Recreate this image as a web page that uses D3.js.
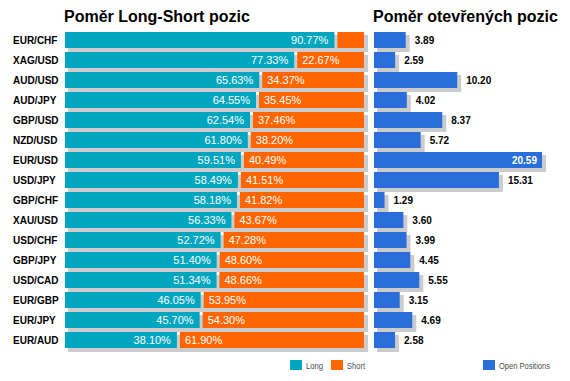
<!DOCTYPE html>
<html><head><meta charset="utf-8">
<script src="https://cdn.jsdelivr.net/npm/d3@7"></script>
<style>body{margin:0;background:#fff}svg{display:block;font-family:"Liberation Sans",Arial,sans-serif}</style>
</head><body>
<svg id="c" width="570" height="381"></svg>
<script>
const categories = ["EUR/CHF","XAG/USD","AUD/USD","AUD/JPY","GBP/USD","NZD/USD","EUR/USD","USD/JPY","GBP/CHF","XAU/USD","USD/CHF","GBP/JPY","USD/CAD","EUR/GBP","EUR/JPY","EUR/AUD"];
const longValues = [90.77,77.33,65.63,64.55,62.54,61.80,59.51,58.49,58.18,56.33,52.72,51.40,51.34,46.05,45.70,38.10];
const shortValues = [9.23,22.67,34.37,35.45,37.46,38.20,40.49,41.51,41.82,43.67,47.28,48.60,48.66,53.95,54.30,61.90];
const openPositions = [3.89,2.59,10.20,4.02,8.37,5.72,20.59,15.31,1.29,3.60,3.99,4.45,5.55,3.15,4.69,2.58];
const titles = ["Poměr Long-Short pozic","Poměr otevřených pozic"];
const legendLabels = ["Long","Short","Open Positions"];

const C = {long:"#00a6bf", short:"#ff6600", open:"#2a6fd9", shadow:"#cccccc"};
const svg = d3.select("#c");
const y = d3.scaleBand().domain(categories).range([30,350]).paddingInner(0.2).paddingOuter(0.1);
const xL = d3.scaleLinear().domain([0,100]).range([65,364]);
const xR = d3.scaleLinear().domain([0,d3.max(openPositions)]).range([374,542]);
const rows = categories.map((c,i)=>({c, l:longValues[i], s:shortValues[i], o:openPositions[i]}));
const bw = y.bandwidth();

// titles
svg.append("text").attr("x",64).attr("y",22).attr("font-size",16).attr("font-weight","bold").attr("fill","#000").text(titles[0]);
svg.append("text").attr("x",373).attr("y",22).attr("font-size",16).attr("font-weight","bold").attr("fill","#000").text(titles[1]);

// category labels
svg.append("g").selectAll("text").data(rows).join("text")
  .attr("x",13).attr("y",d=>y(d.c)+bw/2).attr("dy","0.36em")
  .attr("font-size",10).attr("font-weight","bold").attr("fill","#000").text(d=>d.c);

// left shadows
svg.append("g").selectAll("rect").data(rows).join("rect")
  .attr("x",xL(0)+3).attr("y",d=>y(d.c)+3).attr("width",xL(100)-xL(0)+1).attr("height",bw+1).attr("fill",C.shadow);
// long bars
svg.append("g").selectAll("rect").data(rows).join("rect")
  .attr("x",xL(0)).attr("y",d=>y(d.c)).attr("width",d=>xL(d.l)-xL(0)-2).attr("height",bw).attr("fill",C.long);
// short bars
svg.append("g").selectAll("rect").data(rows).join("rect")
  .attr("x",d=>xL(d.l)+1).attr("y",d=>y(d.c)).attr("width",d=>xL(100)-xL(d.l)-1).attr("height",bw).attr("fill",C.short);
// long labels
svg.append("g").selectAll("text").data(rows).join("text")
  .attr("x",d=>xL(d.l)-8).attr("y",d=>y(d.c)+bw/2).attr("dy","0.36em").attr("text-anchor","end")
  .attr("font-size",11).attr("fill","#fff").text(d=>d.l.toFixed(2)+"%");
// short labels
svg.append("g").selectAll("text").data(rows.filter(d=>d.s>15)).join("text")
  .attr("x",d=>xL(d.l)+6).attr("y",d=>y(d.c)+bw/2).attr("dy","0.36em")
  .attr("font-size",11).attr("fill","#fff").text(d=>d.s.toFixed(2)+"%");

// right shadows
svg.append("g").selectAll("rect").data(rows).join("rect")
  .attr("x",xR(0)+3).attr("y",d=>y(d.c)+3).attr("width",d=>xR(d.o)-xR(0)+1).attr("height",bw+1).attr("fill",C.shadow);
svg.append("g").selectAll("rect").data(rows).join("rect")
  .attr("x",xR(0)).attr("y",d=>y(d.c)).attr("width",d=>xR(d.o)-xR(0)).attr("height",bw).attr("fill",C.open);
const maxO = d3.max(openPositions);
svg.append("g").selectAll("text").data(rows).join("text")
  .attr("x",d=>d.o===maxO ? xR(d.o)-5 : xR(d.o)+9)
  .attr("text-anchor",d=>d.o===maxO?"end":"start")
  .attr("y",d=>y(d.c)+bw/2).attr("dy","0.36em")
  .attr("font-size",10).attr("font-weight","bold").attr("fill",d=>d.o===maxO?"#fff":"#000").text(d=>d.o.toFixed(2));

// legend
const leg = [{t:legendLabels[0],c:C.long,x:290,w:17},{t:legendLabels[1],c:C.short,x:331,w:18},{t:legendLabels[2],c:C.open,x:483,w:51}];
const lg = svg.append("g").selectAll("g").data(leg).join("g");
lg.append("rect").attr("x",d=>d.x).attr("y",360).attr("width",12).attr("height",10).attr("fill",d=>d.c);
lg.append("text").attr("x",d=>d.x+16).attr("y",369).attr("font-size",9).attr("fill","#4d4d4d")
  .attr("textLength",d=>d.w).attr("lengthAdjust","spacingAndGlyphs").text(d=>d.t);
</script>
</body></html>
